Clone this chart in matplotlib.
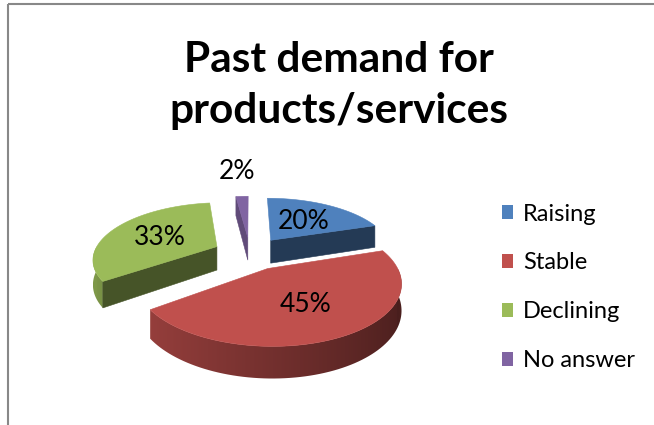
import numpy as np
import matplotlib.pyplot as plt
from matplotlib.patches import Polygon, Patch
from matplotlib.colors import to_rgb

# data
labels = ["Raising", "Stable", "Declining", "No answer"]
shares = [20, 45, 33, 2]
pct_labels = ["20%", "45%", "33%", "2%"]
colors = ["#4F81BD", "#C0504D", "#9BBB59", "#8064A2"]

plt.rcParams['font.family'] = ['Lato', 'DejaVu Sans']

# fake 3d pie geometry (pixels)
CX, CY = 250, 253
A, B = 123, 55
K = 0.2
EXPLODE = 0.3
DEPTH = 24


def proj(X, V, h=0.0):
    s = 1.0 / (1.0 - K * V)
    return CX + A * X * s, CY + B * V * s + h * DEPTH * s


def shade(c, f):
    r, g, b = to_rgb(c)
    return (r * f, g * f, b * f)


def wall_f(t):
    # brightness of the curved wall, lighter on the left
    return 0.6 - 0.22 * np.sin(t)


fig = plt.figure(figsize=(6.54, 4.25), dpi=100)
ax = fig.add_axes([0, 0, 1, 1])

total = float(sum(shares))
bounds = np.concatenate([[0], np.cumsum(shares)]) / total * 360.0

slices = []
for i in range(len(shares)):
    t0, t1 = bounds[i], bounds[i + 1]
    m = np.radians((t0 + t1) / 2)
    ox, ov = EXPLODE * np.sin(m), -EXPLODE * np.cos(m)
    slices.append((ov, i, t0, t1, ox))

z = 1
for ov, i, t0, t1, ox in sorted(slices):
    c = colors[i]

    # curved outer wall (front half only), filled with a gradient
    w0, w1 = max(t0, 90.0), min(t1, 270.0)
    if w1 > w0:
        tw = np.radians(np.linspace(w0, w1, 80))
        top = [proj(ox + np.sin(t), ov - np.cos(t)) for t in tw]
        bot = [proj(ox + np.sin(t), ov - np.cos(t), 1) for t in tw]
        poly = Polygon(top + bot[::-1], closed=True, fc='none', ec='none')
        ax.add_patch(poly)
        xs_top = np.array([p[0] for p in top])
        ys = np.array([p[1] for p in top + bot])
        xmin, xmax = xs_top.min(), xs_top.max()
        cols = np.linspace(xmin, xmax, 200)
        order = np.argsort(xs_top)
        tcol = np.interp(cols, xs_top[order], tw[order])
        rgb = np.array([shade(c, wall_f(t)) for t in tcol])
        img = np.repeat(rgb[None, :, :], 2, axis=0)
        im = ax.imshow(img, extent=(xmin, xmax, ys.max() + 1, ys.min() - 1),
                       aspect='auto', interpolation='bilinear', zorder=z)
        im.set_clip_path(poly)
        z += 1

    # radial cut faces
    for tt, sign in ((np.radians(t0), -1), (np.radians(t1), 1)):
        nx, nv = -sign * np.cos(tt), sign * np.sin(tt)
        if nv <= 0:
            continue
        f = 0.3 + 0.45 * nx if nx > 0 else 0.45
        xo, vo = ox + np.sin(tt), ov - np.cos(tt)
        p = [proj(ox, ov), proj(xo, vo), proj(xo, vo, 1), proj(ox, ov, 1)]
        ax.add_patch(Polygon(p, closed=True, fc=shade(c, f), ec=shade(c, f), lw=0.4, zorder=z))
        z += 1

    # top face
    th = np.radians(np.linspace(t0, t1, max(4, int(t1 - t0))))
    pts = [proj(ox, ov)] + [proj(ox + np.sin(t), ov - np.cos(t)) for t in th]
    ax.add_patch(Polygon(pts, closed=True, fc=c, ec=c, lw=0.4, zorder=z))
    z += 1

# data labels
for ov, i, t0, t1, ox in slices:
    mr = np.radians((t0 + t1) / 2)
    if shares[i] >= 5:
        lx, ly = proj(ox + 0.55 * np.sin(mr), ov - 0.55 * np.cos(mr))
        ax.text(lx, ly + 2, pct_labels[i], ha='center', va='center', fontsize=19,
                color='black', zorder=50)
    else:
        lx, ly = proj(ox + np.sin(mr), ov - np.cos(mr))
        ax.text(lx - 5, ly - 12, pct_labels[i], ha='center', va='bottom', fontsize=19,
                color='black', zorder=50)

# title
ax.text(339, 72, "Past demand for", ha='center', va='baseline',
        fontsize=30.5, fontweight='bold')
ax.text(339, 123, "products/services", ha='center', va='baseline',
        fontsize=30.5, fontweight='bold')

# legend
handles = [Patch(facecolor=c, edgecolor='none') for c in colors]
ax.legend(handles, labels, loc='upper left', bbox_to_anchor=(0.767, 0.521),
          frameon=False, fontsize=17, handlelength=0.5, handleheight=0.5,
          handletextpad=0.4, labelspacing=1.18, borderpad=0, borderaxespad=0)

# chart border
ax.plot([8, 8], [4, 425], color='#888888', lw=1.5, solid_capstyle='butt')
ax.plot([8, 654], [4, 4], color='#888888', lw=1.5, solid_capstyle='butt')

ax.set_xlim(0, 654)
ax.set_ylim(425, 0)
ax.axis('off')

fig.savefig("out.png", dpi=100)
